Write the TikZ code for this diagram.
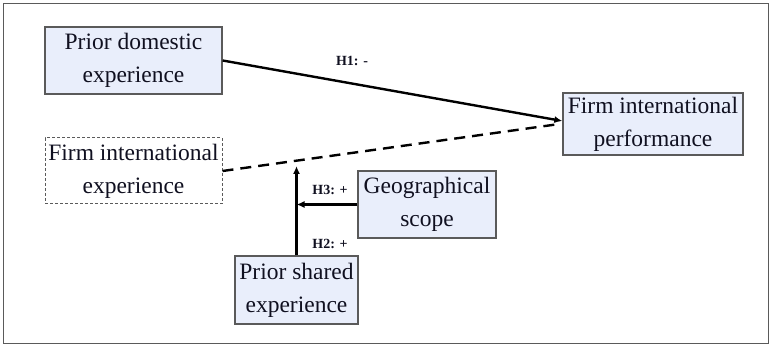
\documentclass[tikz,border=0pt]{standalone}
\usepackage{fontspec}
\setmainfont{Liberation Serif}
\usetikzlibrary{arrows.meta,calc}
\definecolor{boxfill}{HTML}{E9EEFB}
\definecolor{boxline}{HTML}{5A5A5A}
\definecolor{txt}{HTML}{101020}
\tikzset{
  varbox/.style={draw=boxline, line width=1.3pt, fill=boxfill, inner sep=0pt, align=center,
    text=txt, font=\fontsize{23.5}{33}\selectfont},
  dashbox/.style={draw=boxline, line width=1pt, dash pattern=on 3pt off 2pt, inner sep=0pt, align=center,
    text=txt, font=\fontsize{23.5}{33}\selectfont},
  link/.style={line width=2.4pt, -{Latex[length=8pt,width=7pt]}},
  dlink/.style={line width=2.4pt, dash pattern=on 11pt off 7pt},
  hlab/.style={font=\fontsize{14}{16}\selectfont\bfseries, inner sep=1pt, text=txt}
}
\begin{document}
\begin{tikzpicture}[x=1pt,y=-1pt]
\useasboundingbox (0,0) rectangle (772,347);
\draw[boxline, line width=1.2pt] (3.5,3.5) rectangle (768.5,343.5);
\node[varbox, minimum width=177pt, minimum height=67pt] (pd) at (133.5,60.5) {Prior domestic\\experience};
\node[dashbox, minimum width=177pt, minimum height=66pt] (fie) at (133.5,171) {Firm international\\experience};
\node[varbox, minimum width=180pt, minimum height=62pt] (perf) at (653,124) {Firm international\\performance};
\node[varbox, minimum width=138pt, minimum height=67pt] (geo) at (427,204.5) {Geographical\\scope};
\node[varbox, minimum width=123pt, minimum height=68pt] (ps) at (296.5,290) {Prior shared\\experience};
\coordinate (mod) at (296.5,166);
\draw[link] (pd.east) -- ($(perf.west)+(0,-3)$);
\draw[dlink] (fie.east) -- ($(perf.west)+(-3,0)$);
\draw[link] (ps.north) -- (mod);
\draw[link] (geo.west) -- (geo.west -| ps.north);
\node[hlab] (h1) at (352,61) {H1: -};
\node[hlab] (h3) at (330,190) {H3: +};
\node[hlab] (h2) at (330,244) {H2: +};
\end{tikzpicture}
\end{document}
